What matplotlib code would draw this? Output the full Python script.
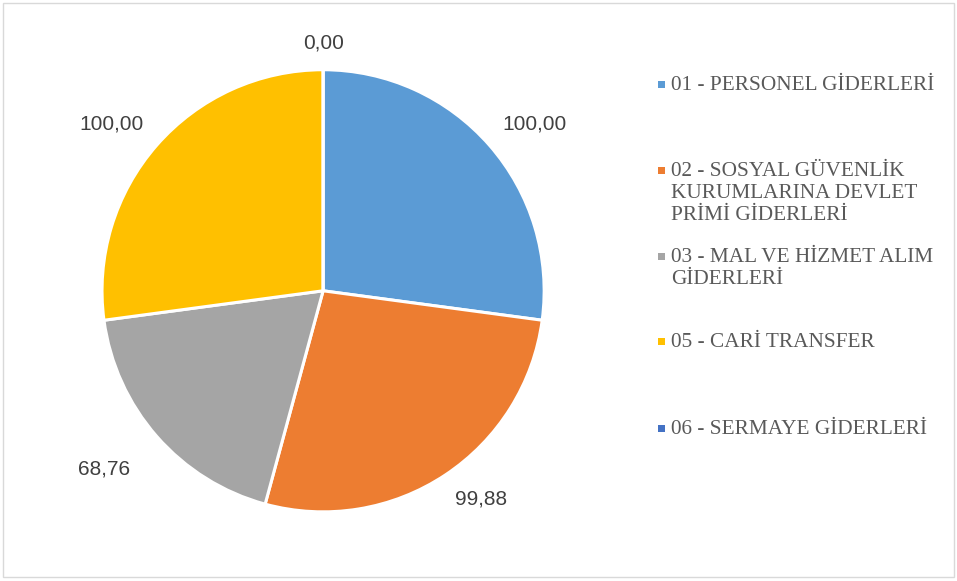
import numpy as np
import matplotlib.pyplot as plt
from matplotlib.patches import Rectangle

# data
categories = [
    "01 - PERSONEL GİDERLERİ",
    "02 - SOSYAL GÜVENLİK\nKURUMLARINA DEVLET\nPRİMİ GİDERLERİ",
    "03 - MAL VE HİZMET ALIM\nGİDERLERİ",
    "05 - CARİ TRANSFER",
    "06 - SERMAYE GİDERLERİ",
]
values = [100.00, 99.88, 68.76, 100.00, 0.00]
colors = ["#5B9BD5", "#ED7D31", "#A5A5A5", "#FFC000", "#4472C4"]

fig = plt.figure(figsize=(9.57, 5.81), dpi=100)
fig.patches.append(Rectangle((0.003, 0.007), 0.994, 0.988, transform=fig.transFigure,
                             fill=False, edgecolor="#D9D9D9", linewidth=1))

ax = fig.add_axes([0.1066, 0.119, 0.462, 0.761])
wedges, _ = ax.pie(values, colors=colors, startangle=90, counterclock=False,
                   radius=1.0, wedgeprops=dict(edgecolor="white", linewidth=2.2))
ax.set_xlim(-1, 1)
ax.set_ylim(-1, 1)
ax.set_aspect("equal")
ax.axis("off")

# data labels, outside end (anchored by the corner nearest the pie)
for w, v in zip(wedges, values):
    ang = np.deg2rad((w.theta1 + w.theta2) / 2)
    r = 1.08 if np.cos(ang) >= -0.5 or np.sin(ang) > 0 else 1.16
    x, y = r * np.cos(ang), r * np.sin(ang)
    if abs(np.cos(ang)) < 0.1:
        ha = "center"
    else:
        ha = "left" if x > 0 else "right"
    va = "bottom" if y > 0 else "top"
    ax.text(x, y, f"{v:.2f}".replace(".", ","), ha=ha, va=va, fontsize=15,
            color="#404040", family="Liberation Sans", clip_on=False)

# legend, entries top aligned in equal slots
tops = 1 - np.array([76, 162, 248, 333, 420]) / 581
for lab, c, t in zip(categories, colors, tops):
    fig.patches.append(Rectangle((658 / 957, t - 12 / 581), 7 / 957, 7 / 581,
                                 transform=fig.transFigure, facecolor=c, edgecolor="none"))
    fig.text(671 / 957, t, lab, ha="left", va="top", fontsize=15.3, color="#595959",
             family="Liberation Serif", linespacing=1.22)

fig.savefig("out.png", dpi=100)
